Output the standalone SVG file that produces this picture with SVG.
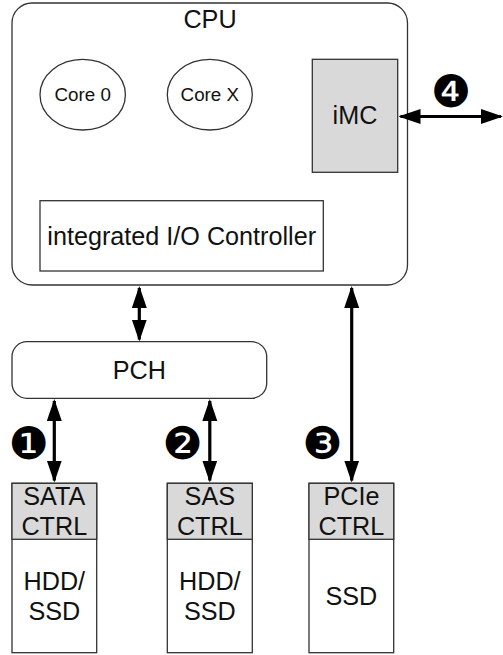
<svg xmlns="http://www.w3.org/2000/svg" width="503" height="655" viewBox="0 0 503 655">
  <style>
    .box { fill: #ffffff; stroke: #333333; stroke-width: 1.3; }
    .hdr { fill: #d9d9d9; stroke: #333333; stroke-width: 1.3; }
    .lbl { font-family: "Liberation Sans", Arial, sans-serif; font-size: 25.2px; fill: #111111; text-anchor: middle; }
    .core { font-family: "Liberation Sans", Arial, sans-serif; font-size: 18.8px; fill: #111111; text-anchor: middle; }
    .num { font-family: "DejaVu Sans", sans-serif; font-size: 45px; fill: #000000; text-anchor: middle; }
    .link { stroke: #000000; stroke-width: 3.2; fill: none; marker-start: url(#head); marker-end: url(#head); }
  </style>
  <defs>
    <marker id="head" markerUnits="userSpaceOnUse" markerWidth="22" markerHeight="16" viewBox="0 0 22 16" refX="20" refY="8" orient="auto-start-reverse">
      <path d="M0,0.5 L22,8 L0,15.5 z" fill="#000000"/>
    </marker>
  </defs>

  <rect width="503" height="655" fill="#ffffff"/>

  <!-- CPU package -->
  <g id="cpu">
    <rect class="box" x="12" y="3" width="395.5" height="282" rx="20" ry="20"/>
    <text class="lbl" x="210" y="27.5">CPU</text>
  </g>
  <g id="core0">
    <ellipse class="box" cx="82.7" cy="94.7" rx="42.7" ry="35.3"/>
    <text class="core" x="82.7" y="100.5">Core 0</text>
  </g>
  <g id="corex">
    <ellipse class="box" cx="209.8" cy="94.7" rx="42.5" ry="35.3"/>
    <text class="core" x="209.8" y="100.5">Core X</text>
  </g>
  <g id="imc">
    <rect class="hdr" x="312.3" y="59.3" width="85.4" height="113"/>
    <text class="lbl" x="355" y="123.8">iMC</text>
  </g>
  <g id="iio">
    <rect class="box" x="40" y="200.7" width="283.3" height="70.3"/>
    <text class="lbl" x="181.7" y="245">integrated I/O Controller</text>
  </g>

  <!-- Platform controller hub -->
  <g id="pch">
    <rect class="box" x="12" y="341.7" width="254.7" height="56.6" rx="15" ry="15"/>
    <text class="lbl" x="139.3" y="379">PCH</text>
  </g>

  <!-- Storage devices -->
  <g id="sata">
    <rect class="box" x="12" y="483.3" width="84.7" height="169.4"/>
    <rect class="hdr" x="12" y="483.3" width="84.7" height="56"/>
    <text class="lbl" x="54.3" y="505">SATA</text>
    <text class="lbl" x="54.3" y="535">CTRL</text>
    <text class="lbl" x="54.3" y="590">HDD/</text>
    <text class="lbl" x="54.3" y="620">SSD</text>
  </g>
  <g id="sas">
    <rect class="box" x="167.3" y="483.3" width="85" height="169.4"/>
    <rect class="hdr" x="167.3" y="483.3" width="85" height="56"/>
    <text class="lbl" x="209.8" y="505">SAS</text>
    <text class="lbl" x="209.8" y="535">CTRL</text>
    <text class="lbl" x="209.8" y="590">HDD/</text>
    <text class="lbl" x="209.8" y="620">SSD</text>
  </g>
  <g id="pcie">
    <rect class="box" x="309" y="483.3" width="84.7" height="169.4"/>
    <rect class="hdr" x="309" y="483.3" width="84.7" height="56"/>
    <text class="lbl" x="351.4" y="505">PCIe</text>
    <text class="lbl" x="351.4" y="535">CTRL</text>
    <text class="lbl" x="351.4" y="605">SSD</text>
  </g>

  <!-- Data paths -->
  <g id="connectors">
    <line class="link" x1="139.3" y1="288" x2="139.3" y2="339.5"/>
    <line class="link" x1="351.7" y1="288" x2="351.7" y2="480.5"/>
    <line class="link" x1="54.3" y1="401" x2="54.3" y2="480.5"/>
    <line class="link" x1="209.8" y1="401" x2="209.8" y2="480.5"/>
    <line class="link" x1="400.5" y1="116.5" x2="501" y2="116.5"/>
  </g>

  <!-- Path numbers -->
  <g id="labels">
    <text class="num" x="29" y="458.5">❶</text>
    <text class="num" x="182.7" y="458.5">❷</text>
    <text class="num" x="322.7" y="458.5">❸</text>
    <text class="num" x="451" y="107">❹</text>
  </g>
</svg>
